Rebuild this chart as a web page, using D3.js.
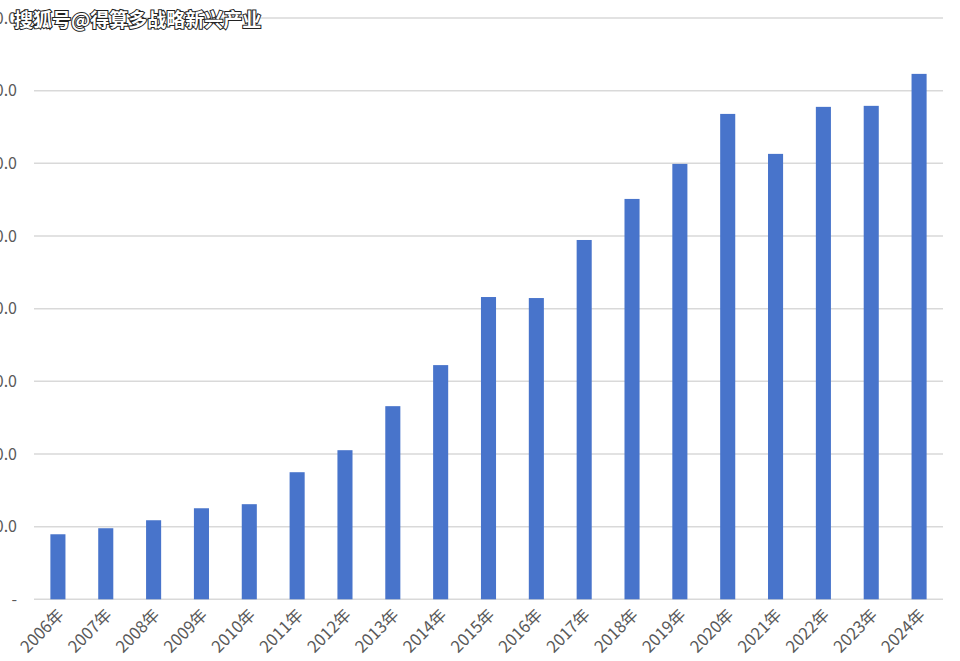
<!DOCTYPE html>
<html>
<head>
<meta charset="utf-8">
<script src="https://cdn.jsdelivr.net/npm/d3@7"></script>
<style>
  body { margin: 0; background: #fff; }
  svg { display: block; }
</style>
</head>
<body>
<svg width="960" height="661"></svg>
<script>
// years on the x axis
var years = ["2006年", "2007年", "2008年", "2009年", "2010年", "2011年", "2012年",
  "2013年", "2014年", "2015年", "2016年", "2017年", "2018年", "2019年",
  "2020年", "2021年", "2022年", "2023年", "2024年"];

// bar heights
var values = [89.5, 97.8, 108.8, 125.3, 130.9, 174.9, 205.2, 265.8, 322.3,
  416.0, 414.6, 494.5, 551.0, 599.2, 668.0, 613.0, 677.7, 679.1, 723.1];

// gridline values
var yTicks = [0, 100, 200, 300, 400, 500, 600, 700, 800];

var watermark = "搜狐号@得算多战略新兴产业";

var svg = d3.select("svg"),
    plotLeft = 34, plotRight = 943, plotTop = 18, plotBottom = 599.3;

var x = d3.scaleBand()
    .domain(years)
    .range([plotLeft, plotRight])
    .padding(0);

var y = d3.scaleLinear()
    .domain([0, 800])
    .range([plotBottom, plotTop]);

var fmt = d3.format(",.1f");

// gridlines
svg.append("g")
  .selectAll("line")
  .data(yTicks)
  .enter().append("line")
    .attr("x1", plotLeft)
    .attr("x2", plotRight)
    .attr("y1", d => y(d))
    .attr("y2", d => y(d))
    .attr("stroke", "#d9d9d9")
    .attr("stroke-width", 1.5);

// y labels (cut off on the left like the original)
svg.append("g")
    .attr("font-family", "'Noto Sans CJK SC', 'Noto Sans', sans-serif")
    .attr("font-size", 16)
    .attr("fill", "#595959")
    .attr("text-anchor", "end")
  .selectAll("text")
  .data(yTicks)
  .enter().append("text")
    .attr("x", 17)
    .attr("y", d => y(d))
    .attr("dy", "0.35em")
    .text(d => d === 0 ? "-" : fmt(d));

// bars
var bw = x.bandwidth() * 0.315;
svg.append("g")
  .selectAll("rect")
  .data(values)
  .enter().append("rect")
    .attr("x", (d, i) => x(years[i]) + x.bandwidth() / 2 - bw / 2)
    .attr("y", d => y(d))
    .attr("width", bw)
    .attr("height", d => y(0) - y(d))
    .attr("fill", "#4874cb");

// x labels, rotated
svg.append("g")
    .attr("font-family", "'Noto Sans CJK SC', 'Noto Sans', sans-serif")
    .attr("font-size", 16.5)
    .attr("fill", "#595959")
    .attr("text-anchor", "end")
  .selectAll("text")
  .data(years)
  .enter().append("text")
    .attr("transform", d => "translate(" + (x(d) + x.bandwidth() / 2 + 3) + ",612) rotate(-45)")
    .attr("dy", "0.35em")
    .text(d => d);

// watermark
svg.append("text")
    .attr("x", 14)
    .attr("y", 27)
    .attr("font-family", "'Noto Sans CJK SC', sans-serif")
    .attr("font-size", 19)
    .attr("font-weight", "bold")
    .attr("fill", "#fff")
    .attr("stroke", "#222")
    .attr("stroke-width", 2)
    .attr("paint-order", "stroke")
    .text(watermark);
</script>
</body>
</html>
